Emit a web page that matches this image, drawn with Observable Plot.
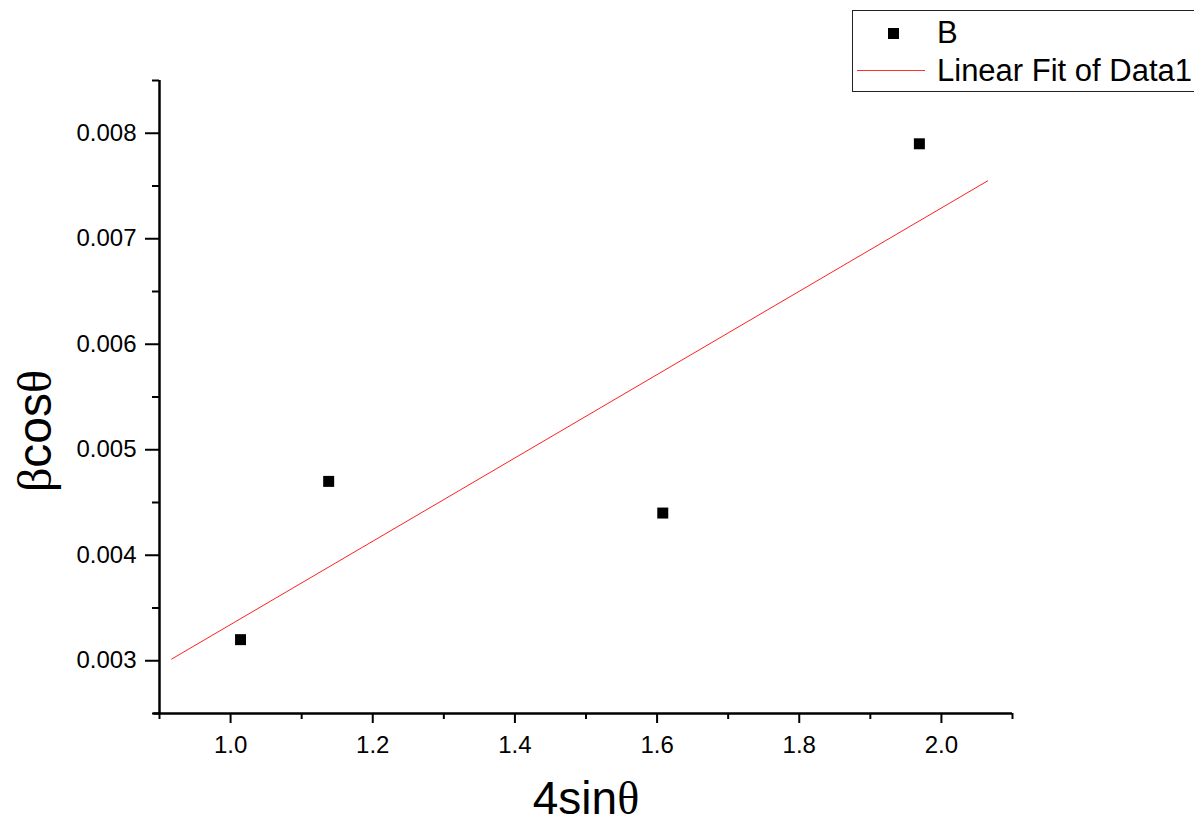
<!DOCTYPE html>
<html><head><meta charset="utf-8">
<script src="https://cdn.jsdelivr.net/npm/d3@7"></script>
<script src="https://cdn.jsdelivr.net/npm/@observablehq/plot@0.6"></script>
<style>
html,body{margin:0;padding:0;background:#fff;overflow:hidden;width:1194px;height:825px}
#wrap{position:relative;width:1194px;height:825px}
#legend{position:absolute;left:852px;top:10px;width:420px;height:80px;border:1px solid #222;background:#fff;font-family:"Liberation Sans",Arial,sans-serif;font-size:31px;color:#000}
#legend .sq{position:absolute;left:35px;top:17px;width:11px;height:11px;background:#000}
#legend .ln{position:absolute;left:4px;top:59px;width:68px;height:1px;background:#ff3030}
#legend .t{position:absolute;left:84px;height:36px;line-height:36px;white-space:nowrap}
</style></head>
<body><div id="wrap"></div>
<script>
// data
const xValues = [1.014, 1.138, 1.608, 1.969];
const yValues = [0.0032, 0.0047, 0.0044, 0.0079];
const fitRange = [0.917, 2.065];
const xMajorTicks = [1.0, 1.2, 1.4, 1.6, 1.8, 2.0];
const xMinorTicks = [0.9, 1.1, 1.3, 1.5, 1.7, 1.9, 2.1];
const yMajorTicks = [0.003, 0.004, 0.005, 0.006, 0.007, 0.008];
const yMinorTicks = [0.0025, 0.0035, 0.0045, 0.0055, 0.0065, 0.0075, 0.0085];
const seriesName = "B";
const fitName = "Linear Fit of Data1";
const xLabel = "4sinθ";
const yLabel = "βcosθ";

const points = xValues.map((x, i) => ({x, y: yValues[i]}));
// least-squares fit
const mx = d3.mean(xValues), my = d3.mean(yValues);
const slope = d3.sum(points, p => (p.x - mx) * (p.y - my)) / d3.sum(points, p => (p.x - mx) ** 2);
const intercept = my - slope * mx;
const fit = fitRange.map(x => ({x, y: intercept + slope * x}));

const chart = Plot.plot({
  width: 1194, height: 825,
  marginLeft: 159, marginRight: 182, marginTop: 80, marginBottom: 112,
  style: {fontFamily: '"Liberation Sans", Arial, sans-serif', fontSize: "24px", color: "#000", background: "white"},
  x: {domain: [0.9, 2.1]},
  y: {domain: [0.0025, 0.0085]},
  marks: [
    Plot.axisX(xMajorTicks, {tickSize: 10, tickPadding: 12, strokeWidth: 2, tickFormat: d => d.toFixed(1), label: null, fontSize: 24}),
    Plot.axisX(xMinorTicks, {tickSize: 6, strokeWidth: 2, tickFormat: () => "", label: null}),
    Plot.axisY(yMajorTicks, {tickSize: 14, tickPadding: 9, strokeWidth: 2, tickFormat: d => d.toFixed(3), label: null, fontSize: 24}),
    Plot.axisY(yMinorTicks, {tickSize: 7, strokeWidth: 2, tickFormat: () => "", label: null}),
    Plot.ruleX([0.9], {strokeWidth: 2.5, stroke: "#000"}),
    Plot.ruleY([0.0025], {x1: 0.892, x2: 2.1, strokeWidth: 2.5, stroke: "#000"}),
    Plot.line(fit, {x: "x", y: "y", stroke: "#ff2020", strokeWidth: 1}),
    Plot.dot(points, {x: "x", y: "y", symbol: "square", r: 6.2, fill: "#000", stroke: "none"}),
    Plot.text([xLabel], {frameAnchor: "bottom", lineAnchor: "middle", textAnchor: "middle", dy: 86, fontSize: 46, fill: "#000"}),
    Plot.text([yLabel], {frameAnchor: "left", lineAnchor: "middle", textAnchor: "middle", dx: -124, dy: 34, rotate: -90, fontSize: 48, fill: "#000"})
  ]
});
document.getElementById("wrap").appendChild(chart);

// mixed fonts for Greek letters in the axis titles
function styleTitle(label, parts) {
  d3.select(chart).selectAll("text").filter(function() { return this.textContent === label; })
    .each(function() {
      const t = d3.select(this);
      t.text(null);
      parts.forEach(([s, serif]) => {
        t.append("tspan").text(s).attr("font-family", serif ? '"Liberation Serif", "DejaVu Serif", serif' : '"Liberation Sans", Arial, sans-serif');
      });
    });
}
styleTitle(xLabel, [["4sin", false], ["θ", true]]);
styleTitle(yLabel, [["β", true], ["cos", false], ["θ", true]]);

// legend
const lg = document.createElement("div");
lg.id = "legend";
lg.innerHTML = `<div class="sq"></div><div class="t" style="top:4px">${seriesName}</div>
<div class="ln"></div><div class="t" style="top:42px">${fitName}</div>`;
document.getElementById("wrap").appendChild(lg);
</script>
</body></html>
